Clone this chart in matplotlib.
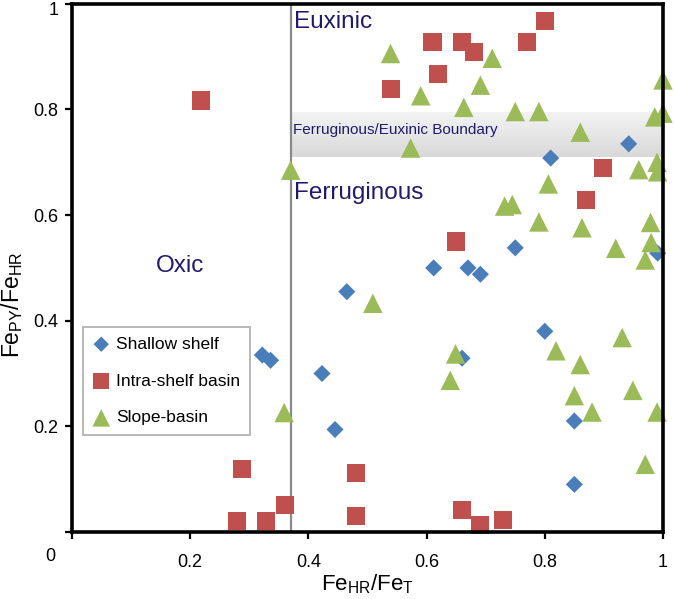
import numpy as np
import matplotlib
matplotlib.use('Agg')
import matplotlib.pyplot as plt
from matplotlib.transforms import ScaledTranslation

plt.rcParams['font.family'] = ['Liberation Sans', 'DejaVu Sans']
plt.rcParams['mathtext.fontset'] = 'custom'
plt.rcParams['mathtext.rm'] = 'Liberation Sans'
plt.rcParams['mathtext.it'] = 'Liberation Sans'

# Fe_HR/Fe_T (x) and Fe_PY/Fe_HR (y) by setting
shallow_x = [0.942, 0.81, 0.75, 0.612, 0.67, 0.691, 0.991, 0.465, 0.322, 0.336,
             0.423, 0.445, 0.80, 0.66, 0.85, 0.85]
shallow_y = [0.735, 0.708, 0.538, 0.50, 0.50, 0.488, 0.528, 0.455, 0.335, 0.325,
             0.30, 0.194, 0.38, 0.329, 0.21, 0.09]

intra_x = [0.80, 0.61, 0.66, 0.68, 0.77, 0.619, 0.539, 0.899, 0.870, 0.649,
           0.219, 0.288, 0.279, 0.329, 0.36, 0.48, 0.48, 0.66, 0.69, 0.73]
intra_y = [0.967, 0.928, 0.928, 0.908, 0.928, 0.868, 0.838, 0.689, 0.628, 0.55,
           0.817, 0.12, 0.021, 0.021, 0.051, 0.111, 0.031, 0.041, 0.013, 0.023]

slope_x = [0.539, 0.711, 0.691, 0.59, 0.663, 0.75, 0.79, 1.0, 0.986, 1.0,
           0.86, 0.573, 0.959, 0.99, 0.991, 0.806, 0.732, 0.745, 0.79, 0.863,
           0.979, 0.98, 0.92, 0.97, 0.509, 0.37, 0.359, 0.931, 0.649, 0.819,
           0.86, 0.64, 0.949, 0.85, 0.88, 0.99, 0.97]
slope_y = [0.906, 0.897, 0.846, 0.826, 0.804, 0.796, 0.796, 0.856, 0.786, 0.793,
           0.757, 0.727, 0.686, 0.70, 0.682, 0.659, 0.617, 0.62, 0.587, 0.576,
           0.586, 0.548, 0.537, 0.515, 0.433, 0.685, 0.226, 0.368, 0.337, 0.343,
           0.317, 0.287, 0.268, 0.258, 0.227, 0.227, 0.128]

oxic_limit = 0.37
boundary_lo, boundary_hi = 0.71, 0.795
xticks = [0, 0.2, 0.4, 0.6, 0.8, 1]
yticks = [0, 0.2, 0.4, 0.6, 0.8, 1]

fig = plt.figure(figsize=(6.75, 5.99), dpi=100)
ax = fig.add_axes([0.1067, 0.112, 0.8755, 0.8815])
ax.set_xlim(0, 1)
ax.set_ylim(0, 1)

# gray ferruginous/euxinic boundary band
grad = np.linspace(0, 1, 50).reshape(-1, 1)
ax.imshow(grad, cmap=matplotlib.colors.LinearSegmentedColormap.from_list(
    'band', ['#d9d9d9', '#f3f3f3']), aspect='auto',
    extent=[oxic_limit, 1, boundary_hi, boundary_lo], zorder=0.5)
ax.axvline(oxic_limit, color='#8a8a8a', lw=1.6, zorder=0.8)

navy = '#1f1a6b'
ax.text(oxic_limit + 0.006, 0.966, 'Euxinic', fontsize=17.5, color=navy,
        va='center', ha='left')
ax.text(oxic_limit + 0.006, 0.642, 'Ferruginous', fontsize=17.5, color=navy,
        va='center', ha='left')
ax.text(0.183, 0.504, 'Oxic', fontsize=17.5, color=navy, va='center', ha='center')
ax.text(oxic_limit + 0.004, 0.762, 'Ferruginous/Euxinic Boundary', fontsize=11,
        color=navy, va='center', ha='left')

ax.scatter(shallow_x, shallow_y, marker='D', s=8.7 ** 2, color='#4a7ebb',
           edgecolors='none', clip_on=False, label='Shallow shelf', zorder=1)
ax.scatter(intra_x, intra_y, marker='s', s=13 ** 2, color='#c0504d',
           edgecolors='none', clip_on=False, label='Intra-shelf basin', zorder=1)
ax.scatter(slope_x, slope_y, marker='^', s=14 ** 2, color='#9bbb59',
           edgecolors='none', clip_on=False, label='Slope-basin', zorder=1)

for s in ax.spines.values():
    s.set_linewidth(2.6)
    s.set_color('black')
ax.tick_params(direction='out', length=5, width=1.6, labelsize=13)
ax.tick_params(axis='y', pad=5)
ax.tick_params(axis='x', pad=11)
ax.set_xticks(xticks)
ax.set_xticklabels(['' if t == 0 else ('1' if t == 1 else str(t)) for t in xticks])
ax.set_yticks(yticks)
ax.set_yticklabels(['' if t == 0 else ('1' if t == 1 else str(t)) for t in yticks])
top_lbl = ax.get_yticklabels()[-1]
top_lbl.set_va('top')
top_lbl.set_transform(top_lbl.get_transform() +
                      ScaledTranslation(0, 1.5 / 72, fig.dpi_scale_trans))
ax.text(-0.037, -0.047, '0', fontsize=13, ha='center', va='center', clip_on=False)

ax.set_xlabel(r'Fe$_{\mathrm{HR}}$/Fe$_{\mathrm{T}}$', fontsize=16, labelpad=1)
ax.set_ylabel(r'Fe$_{\mathrm{PY}}$/Fe$_{\mathrm{HR}}$', fontsize=16.5)
ax.yaxis.set_label_coords(-0.08, 0.43)

leg = ax.legend(loc='upper left', bbox_to_anchor=(0.0186, 0.388), borderaxespad=0,
                fontsize=12.5, handlelength=1.0, handletextpad=0.35, labelspacing=1.25,
                fancybox=False, frameon=True, borderpad=0.55, markerscale=0.9)
leg.get_frame().set_edgecolor('#a6a6a6')
leg.get_frame().set_linewidth(1.4)

fig.savefig('out.png', dpi=100)
